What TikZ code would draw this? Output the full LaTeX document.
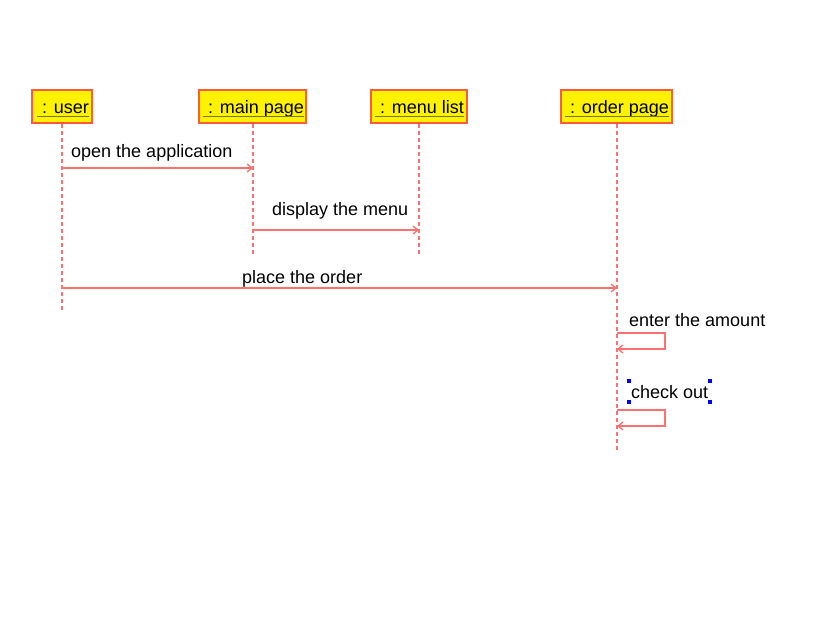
\documentclass[tikz,border=0pt]{standalone}
\usepackage{fontspec}
\setmainfont{Liberation Sans}
\usetikzlibrary{arrows.meta}
\definecolor{boxline}{HTML}{FF5A3C}
\definecolor{msgline}{HTML}{FF7070}
\definecolor{uline}{HTML}{7A7A00}
\tikzset{
  obj/.style={draw=boxline, line width=1.3pt, fill=yellow, minimum height=33pt, inner sep=0pt},
  life/.style={draw=msgline, line width=1.4pt, dash pattern=on 4pt off 3pt},
  msg/.style={draw=msgline, line width=1.3pt, -{Straight Barb[length=5pt,width=8pt]}},
  lbl/.style={font=\fontsize{18}{21}\selectfont, inner sep=0pt, anchor=base west},
  handle/.style={fill=blue, minimum size=4.5pt, inner sep=0pt}
}
\begin{document}
\begin{tikzpicture}[x=1pt,y=-1pt]
\useasboundingbox (0,0) rectangle (822,619);
% objects
\node[obj, minimum width=60pt] (u) at (62,106.5) {};
\node[lbl] (ut) at (37,113) {\ : user};
\node[obj, minimum width=107pt] (m) at (252.5,106.5) {};
\node[lbl] (mt) at (203,113) {\ : main page};
\node[obj, minimum width=96pt] (l) at (419,106.5) {};
\node[lbl] (lt) at (375,113) {\ : menu list};
\node[obj, minimum width=111pt] (o) at (616.5,106.5) {};
\node[lbl] (ot) at (565,113) {\ : order page};
\foreach \t in {ut,mt,lt,ot}{\draw[uline, line width=1.1pt] ([yshift=-3.5pt]\t.base west) -- ([yshift=-3.5pt]\t.base east);}
% lifeline ends
\coordinate (ue) at (62,312);
\coordinate (me) at (253,255);
\coordinate (le) at (419,255);
\coordinate (oe) at (617,450);
\draw[life] (u.south) -- (ue);
\draw[life] (m.south -| 253,0) -- (me);
\draw[life] (l.south) -- (le);
\draw[life] (o.south -| 617,0) -- (oe);
% messages
\coordinate (a1) at (62,168); \coordinate (a2) at (253,168);
\draw[msg] (a1) -- (a2);
\node[lbl] (t1) at (71,157) {open the application};
\coordinate (b1) at (253,230); \coordinate (b2) at (419,230);
\draw[msg] (b1) -- (b2);
\node[lbl] (t2) at (272,215) {display the menu};
\coordinate (c1) at (62,288); \coordinate (c2) at (617,288);
\draw[msg] (c1) -- (c2);
\node[lbl] (t3) at (242,283) {place the order};
\coordinate (d1) at (617,333); \coordinate (d2) at (617,349);
\draw[msg] (d1) -- (665,333) -- (665,349) -- (d2);
\node[lbl] (t4) at (629,326) {enter the amount};
\coordinate (e1) at (617,410); \coordinate (e2) at (617,426);
\draw[msg] (e1) -- (665,410) -- (665,426) -- (e2);
\node[lbl] (t5) at (631,398) {check out};
\node[handle] (h1) at (629,381) {};
\node[handle] (h2) at (710,381) {};
\node[handle] (h3) at (629,402) {};
\node[handle] (h4) at (710,402) {};
\end{tikzpicture}
\end{document}
